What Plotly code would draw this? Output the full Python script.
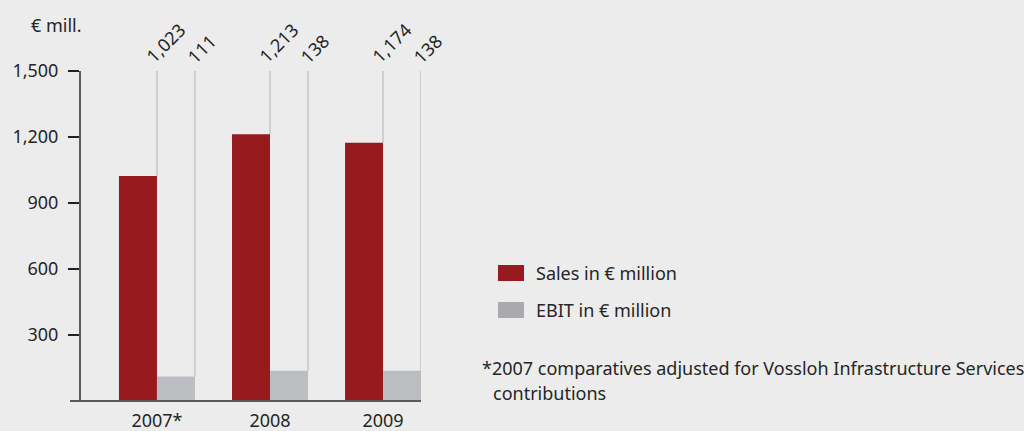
import plotly.graph_objects as go

# Data
years = ["2007*", "2008", "2009"]
sales = [1023, 1213, 1174]
ebit = [111, 138, 138]
sales_labels = ["1,023", "1,213", "1,174"]
ebit_labels = ["111", "138", "138"]
y_ticks = [300, 600, 900, 1200, 1500]
y_tick_text = ["300", "600", "900", "1,200", "1,500"]

RED = "#971a1f"
GREY = "#bcbdc0"
BG = "#ebeceb"
TEXT = "#262626"
LEADER = "#c4c5c8"
FONT = "Noto Sans"

W, H = 1024, 431
L, R, T, B = 81, 603, 71, 30
PW, PH = W - L - R, H - T - B


def px_x(px):
    return (px - L) / PW


def px_y(py):
    return (H - B - py) / PH


fig = go.Figure()
fig.add_trace(go.Bar(x=years, y=sales, name="Sales in € million",
                     marker=dict(color=RED, line=dict(width=0))))
fig.add_trace(go.Bar(x=years, y=ebit, name="EBIT in € million",
                     marker=dict(color=GREY, line=dict(width=0))))

shapes = []
annotations = []
half = 0.336  # width of one bar in category units
for i in range(len(years)):
    # leader lines from value labels down to the bars
    shapes.append(dict(type="line", xref="x", yref="y", x0=i, x1=i,
                       y0=sales[i], y1=1500, layer="below",
                       line=dict(color=LEADER, width=1.5)))
    shapes.append(dict(type="line", xref="x", yref="y", x0=i + half, x1=i + half,
                       y0=ebit[i], y1=1500, layer="below",
                       line=dict(color=LEADER, width=1.5)))
    annotations.append(dict(x=i, y=1500, xref="x", yref="y", text=sales_labels[i],
                            textangle=-45, showarrow=False, xanchor="left",
                            yanchor="bottom", xshift=-19, yshift=0,
                            font=dict(family=FONT, size=18, color=TEXT)))
    annotations.append(dict(x=i + half, y=1500, xref="x", yref="y", text=ebit_labels[i],
                            textangle=-45, showarrow=False, xanchor="left",
                            yanchor="bottom", xshift=-16, yshift=0,
                            font=dict(family=FONT, size=18, color=TEXT)))

# x axis baseline, extending slightly left of the y axis
shapes.append(dict(type="line", xref="paper", yref="paper", x0=px_x(70), x1=1,
                   y0=0, y1=0, line=dict(color="#5a5a5a", width=2)))

# legend swatches
shapes.append(dict(type="rect", xref="paper", yref="paper",
                   x0=px_x(498), x1=px_x(524), y0=px_y(281), y1=px_y(265),
                   fillcolor=RED, line=dict(width=0)))
shapes.append(dict(type="rect", xref="paper", yref="paper",
                   x0=px_x(498), x1=px_x(524), y0=px_y(318), y1=px_y(302),
                   fillcolor="#a9aaad", line=dict(width=0)))

legend_font = dict(family=FONT, size=18, color=TEXT)
annotations += [
    dict(xref="paper", yref="paper", x=px_x(534), y=px_y(273), text="Sales in € million",
         showarrow=False, xanchor="left", yanchor="middle", font=legend_font),
    dict(xref="paper", yref="paper", x=px_x(534), y=px_y(310), text="EBIT in € million",
         showarrow=False, xanchor="left", yanchor="middle", font=legend_font),
    dict(xref="paper", yref="paper", x=px_x(480), y=px_y(368),
         text="*2007 comparatives adjusted for Vossloh Infrastructure Services",
         showarrow=False, xanchor="left", yanchor="middle", font=legend_font),
    dict(xref="paper", yref="paper", x=px_x(491), y=px_y(393), text="contributions",
         showarrow=False, xanchor="left", yanchor="middle", font=legend_font),
    dict(xref="paper", yref="paper", x=px_x(84), y=px_y(25), text="€ mill.",
         showarrow=False, xanchor="right", yanchor="middle", font=legend_font),
]

fig.update_layout(
    width=W, height=H,
    margin=dict(l=L, r=R, t=T, b=B, pad=0, autoexpand=False),
    paper_bgcolor=BG, plot_bgcolor=BG,
    barmode="group", bargap=0.328, bargroupgap=0,
    showlegend=False,
    shapes=shapes, annotations=annotations,
    font=dict(family=FONT, size=18, color=TEXT),
    xaxis=dict(type="category", range=[-0.672, 2.336], showgrid=False,
               showline=False, zeroline=False, ticks="", automargin=False,
               ticklabelstandoff=7,
               tickfont=dict(family=FONT, size=18, color=TEXT)),
    yaxis=dict(range=[0, 1500], tickvals=y_ticks, ticktext=y_tick_text,
               showgrid=False, zeroline=False, showline=True, automargin=False,
               linecolor="#5a5a5a", linewidth=2, ticklabelstandoff=6,
               ticks="outside", ticklen=11, tickwidth=1.5, tickcolor="#222222",
               tickfont=dict(family=FONT, size=18, color=TEXT)),
)

fig.write_html("out.html")
